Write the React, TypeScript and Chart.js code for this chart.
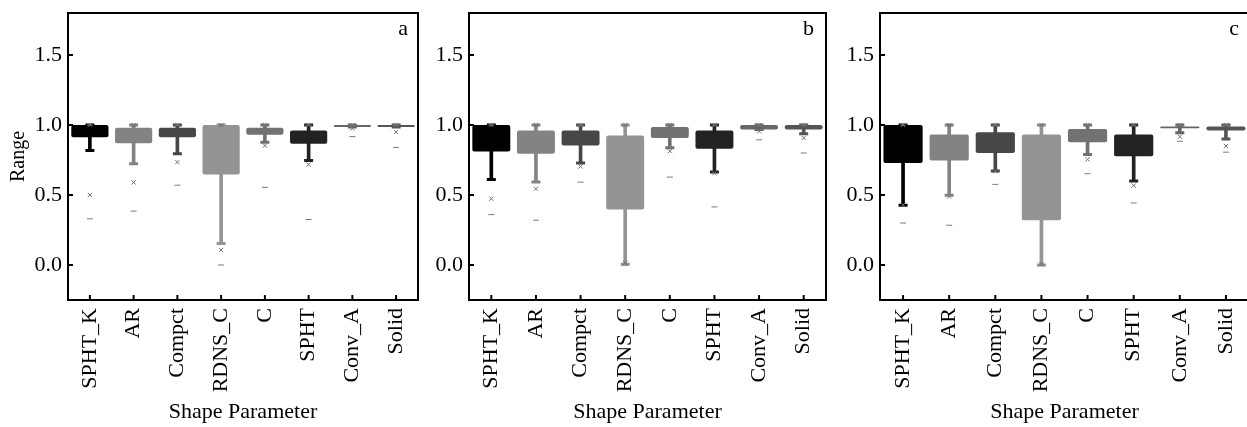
import React, { useEffect, useRef } from 'react';
import { Chart, registerables } from 'chart.js';

Chart.register(...registerables);

const categories = ['SPHT_K', 'AR', 'Compct', 'RDNS_C', 'C', 'SPHT', 'Conv_A', 'Solid'];
const yTickValues = [0, 0.5, 1.0, 1.5];
const boxColors = ['#000000', '#838383', '#474747', '#949494', '#727272', '#222222', '#666666', '#555555'];
const xTitle = 'Shape Parameter';
const yTitle = 'Range';

// Panel a
const aQ1 = [0.913, 0.87, 0.913, 0.647, 0.93, 0.866, 0.985, 0.985];
const aQ3 = [1.0, 0.98, 0.98, 1.0, 0.98, 0.96, 1.0, 1.0];
const aLow = [0.818, 0.723, 0.794, 0.154, 0.877, 0.747, 0.985, 0.985];
const aHigh = [1.0, 1.0, 1.0, 1.0, 1.0, 1.0, 1.0, 1.0];
const aP1 = [0.5, 0.59, 0.735, 0.107, 0.853, 0.718, 0.975, 0.95];
const aP99 = [1.0, 1.0, 1.0, 1.0, 1.0, 1.0, 1.0, 1.0];
const aMin = [0.33, 0.385, 0.57, 0.0, 0.555, 0.325, 0.917, 0.84];
const aMax = [1.0, 1.0, 1.0, 1.0, 1.0, 1.0, 1.0, 1.0];

// Panel b
const bQ1 = [0.81, 0.794, 0.853, 0.396, 0.908, 0.83, 0.967, 0.967];
const bQ3 = [1.0, 0.96, 0.96, 0.925, 0.985, 0.96, 1.0, 1.0];
const bLow = [0.61, 0.592, 0.728, 0.005, 0.837, 0.664, 0.967, 0.937];
const bHigh = [1.0, 1.0, 1.0, 1.0, 1.0, 1.0, 1.0, 1.0];
const bP1 = [0.474, 0.545, 0.704, 0.016, 0.813, 0.655, 0.955, 0.908];
const bP99 = [1.0, 1.0, 1.0, 1.0, 1.0, 1.0, 1.0, 1.0];
const bMin = [0.36, 0.32, 0.592, 0.0, 0.628, 0.415, 0.894, 0.8];
const bMax = [1.0, 1.0, 1.0, 1.0, 1.0, 1.0, 1.0, 1.0];

// Panel c
const cQ1 = [0.728, 0.747, 0.8, 0.32, 0.877, 0.777, 0.977, 0.96];
const cQ3 = [1.0, 0.932, 0.948, 0.932, 0.972, 0.932, 0.99, 0.989];
const cLow = [0.427, 0.498, 0.671, 0.0, 0.79, 0.6, 0.944, 0.9];
const cHigh = [1.0, 1.0, 1.0, 1.0, 1.0, 1.0, 1.0, 1.0];
const cP1 = [0.43, 0.49, 0.67, 0.005, 0.754, 0.567, 0.917, 0.85];
const cP99 = [1.0, 1.0, 1.0, 1.0, 1.0, 1.0, 1.0, 1.0];
const cMin = [0.3, 0.284, 0.576, 0.0, 0.652, 0.443, 0.884, 0.806];
const cMax = [1.0, 1.0, 1.0, 1.0, 1.0, 1.0, 1.0, 1.0];

const FONT = '"Liberation Serif", "Times New Roman", serif';

type PanelData = {
  q1: number[]; q3: number[]; low: number[]; high: number[];
  p1: number[]; p99: number[]; min: number[]; max: number[];
};

const panelA: PanelData = { q1: aQ1, q3: aQ3, low: aLow, high: aHigh, p1: aP1, p99: aP99, min: aMin, max: aMax };
const panelB: PanelData = { q1: bQ1, q3: bQ3, low: bLow, high: bHigh, p1: bP1, p99: bP99, min: bMin, max: bMax };
const panelC: PanelData = { q1: cQ1, q3: cQ3, low: cLow, high: cHigh, p1: cP1, p99: cP99, min: cMin, max: cMax };

const frameTicksPlugin = {
  id: 'frameTicks',
  afterDraw(chart: any, _args: any, opts: any) {
    const { ctx, chartArea } = chart;
    const { left, right, top, bottom } = chartArea;
    const x = chart.scales.x;
    const y = chart.scales.y;
    ctx.save();
    ctx.strokeStyle = '#000';
    ctx.lineWidth = 2;
    ctx.strokeRect(left, top, right - left, bottom - top);
    y.ticks.forEach((t: any) => {
      const py = y.getPixelForValue(t.value);
      ctx.beginPath();
      ctx.moveTo(left, py);
      ctx.lineTo(left + 5, py);
      ctx.stroke();
    });
    x.ticks.forEach((_t: any, i: number) => {
      const px = x.getPixelForTick(i);
      ctx.beginPath();
      ctx.moveTo(px, bottom);
      ctx.lineTo(px, bottom - 5);
      ctx.stroke();
    });
    ctx.fillStyle = '#000';
    ctx.font = `22px ${FONT}`;
    ctx.textAlign = 'right';
    ctx.textBaseline = 'alphabetic';
    ctx.fillText(opts.letter, right - opts.letterGap, top + 22);
    ctx.restore();
  },
};

function BoxPanel(props: { panel: PanelData; left: number; width: number; axisWidth: number; letter: string; letterGap: number; showYTitle: boolean }) {
  const { panel, left, width, axisWidth, letter, letterGap, showYTitle } = props;
  const ref = useRef<HTMLCanvasElement>(null);
  useEffect(() => {
    const canvas = ref.current;
    if (!canvas) return;
    const pts = (vals: number[]) => vals.map((v, i) => ({ x: categories[i], y: v }));
    const chart = new Chart(canvas, {
      type: 'bar',
      data: {
        labels: categories,
        datasets: [
          {
            type: 'bar',
            data: categories.map((_, i) => [panel.low[i], panel.high[i]]),
            backgroundColor: boxColors,
            barThickness: 3,
            grouped: false,
            order: 4,
          } as any,
          {
            type: 'line',
            data: [...pts(panel.low), ...pts(panel.high)],
            showLine: false,
            pointStyle: 'line',
            pointRadius: 4.5,
            pointBorderWidth: 3,
            pointBorderColor: [...boxColors, ...boxColors],
            pointBackgroundColor: [...boxColors, ...boxColors],
            order: 3,
          } as any,
          {
            type: 'bar',
            data: categories.map((_, i) => [panel.q1[i], panel.q3[i]]),
            backgroundColor: boxColors,
            borderRadius: 2,
            borderSkipped: false,
            grouped: false,
            barPercentage: 0.85,
            categoryPercentage: 1,
            order: 2,
          } as any,
          {
            type: 'line',
            data: [...pts(panel.p1), ...pts(panel.p99)],
            showLine: false,
            pointStyle: 'crossRot',
            pointRadius: 3,
            pointBorderWidth: 1,
            pointBorderColor: '#707070',
            pointBackgroundColor: '#707070',
            order: 1,
          } as any,
          {
            type: 'line',
            data: [...pts(panel.min), ...pts(panel.max)],
            showLine: false,
            pointStyle: 'line',
            pointRadius: 3,
            pointBorderWidth: 1,
            pointBorderColor: '#7a7a7a',
            pointBackgroundColor: '#7a7a7a',
            order: 0,
          } as any,
        ],
      },
      options: {
        animation: false,
        responsive: false,
        layout: { autoPadding: false, padding: { top: 13, right: 2, left: 0, bottom: 0 } },
        plugins: {
          legend: { display: false },
          tooltip: { enabled: false },
          frameTicks: { letter, letterGap },
        } as any,
        scales: {
          x: {
            type: 'category',
            offset: true,
            grid: { display: false, drawTicks: false },
            border: { display: false },
            ticks: {
              minRotation: 90,
              maxRotation: 90,
              autoSkip: false,
              padding: 8,
              color: '#000',
              font: { family: FONT, size: 22 },
            },
            title: {
              display: true,
              text: xTitle,
              color: '#000',
              font: { family: FONT, size: 22 },
              padding: { top: 0, bottom: 2 },
            },
            afterFit: (s: any) => {
              s.height = 127;
              s.paddingLeft = 0;
              s.paddingRight = 0;
            },
          },
          y: {
            min: -0.25,
            max: 1.8,
            grid: { display: false, drawTicks: false },
            border: { display: false },
            afterBuildTicks: (s: any) => { s.ticks = yTickValues.map((v) => ({ value: v })); },
            ticks: {
              padding: 6,
              color: '#000',
              font: { family: FONT, size: 22 },
              callback: (v: any) => Number(v).toFixed(1),
            },
            title: {
              display: showYTitle,
              text: yTitle,
              color: '#000',
              font: { family: FONT, size: 20 },
              padding: { top: 7, bottom: 0 },
            },
            afterFit: (s: any) => {
              s.width = axisWidth;
              s.paddingTop = 0;
              s.paddingBottom = 0;
            },
          },
        } as any,
      },
      plugins: [frameTicksPlugin],
    } as any);
    return () => chart.destroy();
  }, []);
  return (
    <canvas
      ref={ref}
      width={width}
      height={427}
      style={{ position: 'absolute', left, top: 0, width, height: 427 }}
    />
  );
}

export default function App() {
  return (
    <div style={{ position: 'absolute', left: 0, top: 0, width: 1247, height: 427, overflow: 'hidden', background: '#fff' }}>
      <BoxPanel panel={panelA} left={0} width={420} axisWidth={68} letter="a" letterGap={10} showYTitle={true} />
      <BoxPanel panel={panelB} left={419} width={409} axisWidth={50} letter="b" letterGap={12} showYTitle={false} />
      <BoxPanel panel={panelC} left={830} width={421} axisWidth={50} letter="c" letterGap={10} showYTitle={false} />
    </div>
  );
}
